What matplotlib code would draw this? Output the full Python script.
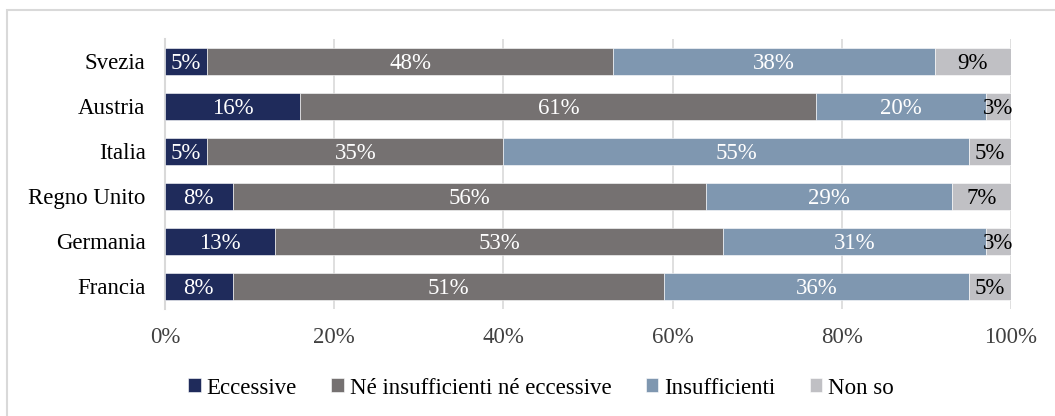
import matplotlib.pyplot as plt
from matplotlib.patches import Rectangle

plt.rcParams['font.family'] = ['Liberation Serif', 'DejaVu Serif']

# Data
paesi = ['Svezia', 'Austria', 'Italia', 'Regno Unito', 'Germania', 'Francia']
eccessive = [5, 16, 5, 8, 13, 8]
ne_ne = [48, 61, 35, 56, 53, 51]
insufficienti = [38, 20, 55, 29, 31, 36]
non_so = [9, 3, 5, 7, 3, 5]

serie = ['Eccessive', 'Né insufficienti né eccessive', 'Insufficienti', 'Non so']
colori = ['#1f2b5b', '#757171', '#7f97b0', '#c0c0c4']
col_testo = ['white', 'white', 'white', 'black']

fig = plt.figure(figsize=(10.55, 4.16), dpi=100)
ax = fig.add_axes([165 / 1055, 1 - 308.5 / 416, 846 / 1055, 270 / 416])

# frame around the chart
fig.patches.append(Rectangle((7 / 1055, -0.1), 1.2, 1 - 10 / 416 + 0.1,
                             transform=fig.transFigure, fill=False,
                             edgecolor='#d9d9d9', linewidth=1.5))

y = list(range(len(paesi)))
left = [0] * len(paesi)
for vals, nome, c, tc in zip([eccessive, ne_ne, insufficienti, non_so], serie, colori, col_testo):
    bars = ax.barh(y, vals, left=left, height=0.6, color=c, label=nome,
                   edgecolor='white', linewidth=0.4, zorder=3)
    for b, v in zip(bars, vals):
        ax.text(b.get_x() + b.get_width() / 2, b.get_y() + b.get_height() / 2,
                f'{v}%', ha='center', va='center_baseline', color=tc, fontsize=16.5, zorder=4)
    left = [l + v for l, v in zip(left, vals)]

ax.set_xlim(0, 100)
ax.set_ylim(len(paesi) - 0.5, -0.5)
ax.set_yticks(y)
ax.set_yticklabels(paesi, fontsize=16.5)
ax.set_xticks(range(0, 101, 20))
ax.set_xticklabels([f'{t}%' for t in range(0, 101, 20)], fontsize=16.5, color='#404040')
ax.tick_params(length=0)
ax.tick_params(axis='x', pad=13)
ax.tick_params(axis='y', pad=14)
ax.xaxis.grid(True, color='#d9d9d9', linewidth=1.2, zorder=0)
for s in ['top', 'right', 'bottom']:
    ax.spines[s].set_visible(False)
ax.spines['left'].set_color('#d9d9d9')
ax.spines['left'].set_linewidth(1.5)

fig.legend(loc='center', bbox_to_anchor=(541 / 1055, 1 - 388 / 416), ncol=4,
           frameon=False, prop={'family': 'Liberation Serif', 'size': 16.5},
           handlelength=0.55, handleheight=0.55,
           handletextpad=0.25, columnspacing=1.5)

fig.savefig('out.png', dpi=100)
